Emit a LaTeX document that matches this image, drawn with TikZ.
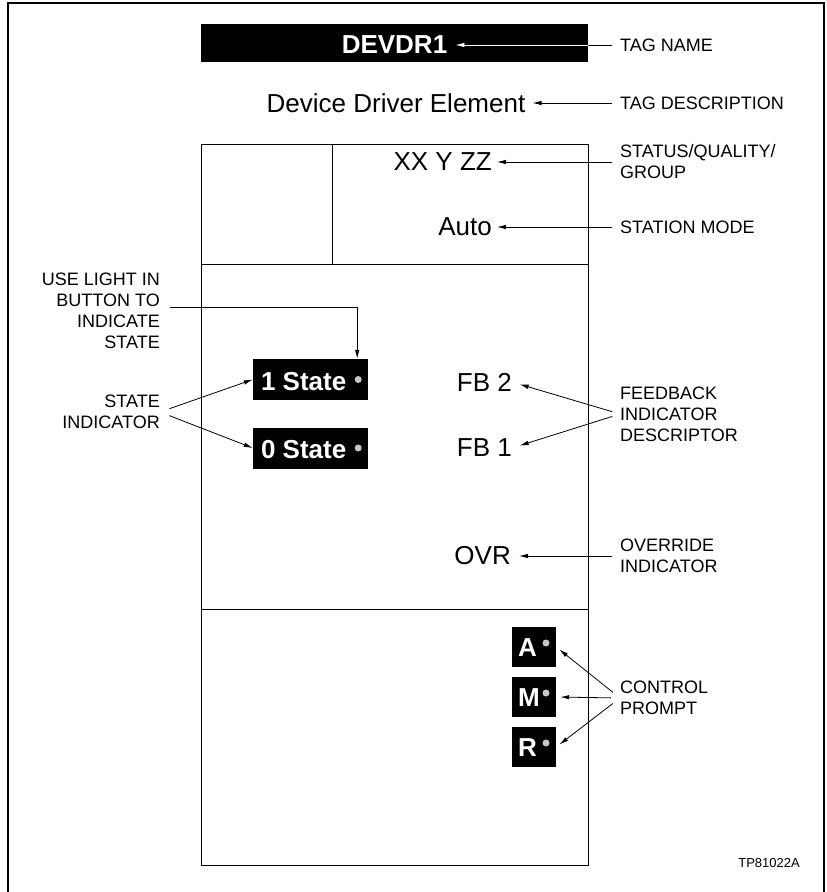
\documentclass[tikz,border=0pt]{standalone}
\usepackage{fontspec}
\setmainfont{Liberation Sans}
\usetikzlibrary{arrows.meta}
\definecolor{lampgray}{gray}{0.78}
\newcommand\mytxtbig{\fontsize{26}{30}\selectfont}
\newcommand\mytxtlbl{\fontsize{18}{21}\selectfont}
\newcommand\mytxtsmall{\fontsize{13}{15}\selectfont}
\begin{document}
\begin{tikzpicture}[x=1pt,y=-1pt,
  txt/.style={inner sep=0pt, font=\mytxtbig},
  wtxt/.style={inner sep=0pt, font=\mytxtbig\bfseries, text=white},
  lbl/.style={inner sep=0pt, font=\mytxtlbl, align=left},
  lblr/.style={inner sep=0pt, font=\mytxtlbl, align=right},
  arr/.style={-{Latex[length=9pt,width=4.5pt]}, line width=0.8pt},
  blackbox/.style={fill=black, inner sep=0pt},
  lamp/.style={circle, fill=lampgray, inner sep=0pt, minimum size=7pt},
  panel/.style={line width=0.8pt}]
\useasboundingbox (0,0) rectangle (827,892);
% outer frame
\draw[line width=1.2pt] (8,892) -- (8,3) -- (824,3) -- (824,892);
% panel
\draw[panel] (201,144) rectangle (588,865);
\draw[panel] (201,264) -- (588,264) (201,609) -- (588,609) (332,144) -- (332,264);

% tag name bar
\node[blackbox, anchor=north west, minimum width=387pt, minimum height=38pt] (bar) at (201,24) {};
\node[wtxt] (devdr) at (394.5,45) {DEVDR1};
\node[lbl, anchor=west] (lTag) at (620,45) {TAG NAME};
\draw[arr, shorten <=8pt, shorten >=8pt] (lTag.west) -- (devdr.east);
\begin{scope}
\clip (bar.north west) rectangle (bar.south east);
\draw[arr, white, shorten <=8pt, shorten >=8pt] (lTag.west) -- (devdr.east);
\end{scope}

% description
\node[txt] (desc) at (396,103) {Device Driver Element};
\node[lbl, anchor=west] (lDesc) at (620,103) {TAG DESCRIPTION};
\draw[arr, shorten <=8pt, shorten >=7pt] (lDesc.west) -- (desc.east);

% status / mode
\node[txt, anchor=east] (xxyz) at (492,162) {XX Y ZZ};
\node[lbl, anchor=west] (lStat) at (620,162) {STATUS/QUALITY/\\GROUP};
\draw[arr, shorten <=8pt, shorten >=5pt] (lStat.west) -- (xxyz.east);
\node[txt, anchor=east] (auto) at (492,227) {Auto};
\node[lbl, anchor=west] (lMode) at (620,227) {STATION MODE};
\draw[arr, shorten <=8pt, shorten >=5pt] (lMode.west) -- (auto.east);

% state buttons
\node[blackbox, minimum width=115pt, minimum height=41pt] (s1) at (310.5,379.5) {};
\node[wtxt, anchor=west] (s1t) at ([xshift=8pt,yshift=-2pt]s1.west) {1 State};
\node[lamp] (s1d) at ([xshift=-10pt]s1.east) {};
\node[blackbox, minimum width=115pt, minimum height=41pt] (s2) at (310.5,448) {};
\node[wtxt, anchor=west] (s2t) at ([xshift=8pt,yshift=-2pt]s2.west) {0 State};
\node[lamp] (s2d) at ([xshift=-10pt]s2.east) {};

\node[lblr, anchor=east] (lUse) at (160,310.5) {USE LIGHT IN\\BUTTON TO\\INDICATE\\STATE};
\draw[arr, shorten <=10pt] ([yshift=3.5pt]lUse.east) -| ([xshift=-11pt]s1.north east);
\node[lblr, anchor=east] (lState) at (160,412) {STATE\\INDICATOR};
\draw[arr, shorten <=10pt] (lState.east) -- (s1.west);
\draw[arr, shorten <=10pt] (lState.east) -- (s2.west);

% feedback
\node[txt, anchor=east] (fb2) at (512,382) {FB 2};
\node[txt, anchor=east] (fb1) at (512,448) {FB 1};
\node[lbl, anchor=west] (lFb) at (620,414) {FEEDBACK\\INDICATOR\\DESCRIPTOR};
\draw[arr, shorten <=8pt, shorten >=8pt] (lFb.west) -- (fb2.east);
\draw[arr, shorten <=8pt, shorten >=8pt] (lFb.west) -- (fb1.east);

% override
\node[txt, anchor=east] (ovr) at (511,556) {OVR};
\node[lbl, anchor=west] (lOvr) at (620,556) {OVERRIDE\\INDICATOR};
\draw[arr, shorten <=8pt, shorten >=8pt] (lOvr.west) -- (ovr.east);

% control prompt
\foreach \n/\l/\yy in {bA/A/647, bM/M/697, bR/R/747}{
  \node[blackbox, minimum width=44pt, minimum height=40pt] (\n) at (534,\yy) {};
  \node[wtxt, anchor=west] (\n t) at ([xshift=6pt,yshift=-1pt]\n.west) {\l};
  \node[lamp] (\n d) at ([xshift=12pt,yshift=4pt]\n.center) {};
}
\node[lbl, anchor=west] (lCtl) at (620,698) {CONTROL\\PROMPT};
\draw[arr, shorten <=9pt, shorten >=4pt] (lCtl.west) -- (bA.east);
\draw[arr, shorten <=9pt, shorten >=4pt] (lCtl.west) -- (bM.east);
\draw[arr, shorten <=9pt, shorten >=4pt] (lCtl.west) -- (bR.east);

\node[inner sep=0pt, font=\mytxtsmall, anchor=east] (tp) at (800,863) {TP81022A};
\end{tikzpicture}
\end{document}
